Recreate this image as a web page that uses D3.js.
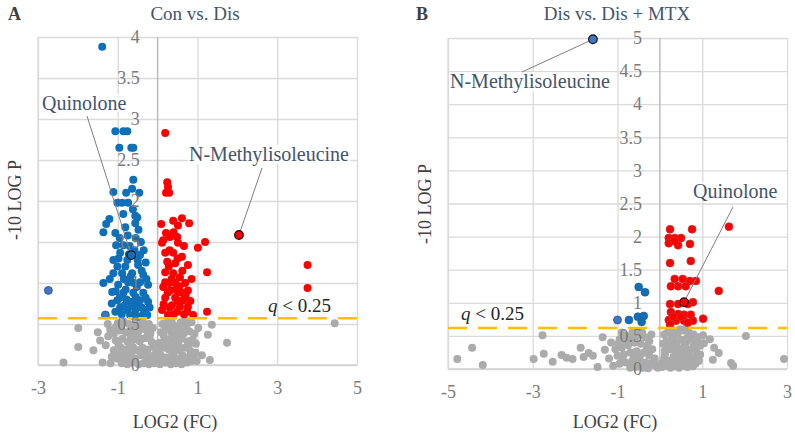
<!DOCTYPE html>
<html><head><meta charset="utf-8">
<script src="https://cdn.jsdelivr.net/npm/d3@7"></script>
<style>html,body{margin:0;padding:0;background:#fff;}svg{display:block;}</style>
</head><body>
<svg id="c" width="795" height="435"></svg>
<script>
// ---------- DATA ----------
const panelTitles = ["Con vs. Dis", "Dis vs. Dis + MTX"];
const panelLetters = ["A", "B"];
const xTicksA = [-3, -1, 1, 3, 5];
const yTicksA = [0, 0.5, 1, 1.5, 2, 2.5, 3, 3.5, 4];
const xTicksB = [-5, -3, -1, 1, 3];
const yTicksB = [0, 0.5, 1, 1.5, 2, 2.5, 3, 3.5, 4, 4.5, 5];
const thresholdA = 0.57, thresholdB = 0.62;
const thresholdLabel = "< 0.25";

const blueA = [[-1.39,3.88],[-1.06,2.85],[-0.86,2.85],[-0.76,2.85],[-0.96,2.65],[-0.66,2.65],[-0.61,2.65],
[-0.61,2.26],[-1.11,2.11],[-0.79,2.10],[-0.64,2.15],[-0.46,2.10],[-1.01,1.98],[-0.89,1.98],[-0.74,1.98],
[-0.86,1.84],[-0.56,1.82],[-1.29,1.72],[-1.21,1.78],[-1.06,1.61],[-0.81,1.68],[-0.51,1.80],[-0.56,1.73],
[-1.36,1.62],[-1.04,1.46],[-0.86,1.46],[-0.44,1.34],[-0.94,1.37],[-1.11,1.28],[-0.76,1.28],[-0.49,1.22],
[-1.01,1.20],[-0.81,1.20],[-0.64,1.12],[-0.89,1.12],[-1.11,1.12],[-0.36,1.10],[-0.44,1.01],[-0.74,1.01],
[-1.36,1.00],[-0.99,0.98],[-0.24,0.98],[-1.14,0.89],[-0.86,0.88],[-0.61,0.88],[-0.36,0.88],[-1.01,0.79],
[-0.69,0.77],[-0.44,0.79],[-0.24,0.77],[-0.94,0.70],[-0.76,0.67],[-0.56,0.67],[-0.31,0.67],[-1.06,0.65],
[-0.49,0.59],[-0.69,0.61],[-0.26,0.61],[-0.55,1.55],[-0.70,1.45],[-0.42,1.50],[-0.95,1.55],[-0.30,1.25],
[-0.60,1.00],[-0.52,0.95],[-0.80,0.92],[-0.58,1.40],[-0.35,1.40],[-0.66,0.72],[-0.40,0.70],[-0.90,0.62],
[-0.98,1.30],[-0.72,1.35],[-0.50,1.28],[-0.85,1.05],[-0.68,1.08],[-0.40,1.15],[-0.28,1.05],[-0.95,0.82],
[-0.78,0.80],[-0.55,0.83],[-0.30,0.82],[-0.85,0.72],[-0.62,0.60],[-0.36,0.62],[-1.05,0.90],[-1.20,1.05],
[-0.48,1.65],[-0.75,1.58],[-0.62,1.90],[-1.15,0.75],[-0.20,0.70],[-0.52,0.75]];
const blueOutA = [[-2.74,0.91],[-1.31,0.61]];
const redA = [[0.19,2.83],[0.24,2.23],[0.26,2.17],[0.21,2.10],[0.29,2.10],[0.61,1.79],[0.39,1.76],[0.79,1.73],
[0.51,1.70],[0.09,1.72],[0.21,1.61],[0.31,1.56],[0.49,1.56],[0.14,1.52],[1.19,1.50],[1.01,1.43],[0.11,1.49],
[0.51,1.49],[0.19,1.37],[0.39,1.37],[0.61,1.32],[0.24,1.26],[0.44,1.24],[0.76,1.22],[1.24,1.13],[0.19,1.13],
[0.39,1.12],[0.56,1.07],[0.19,1.01],[0.44,1.01],[0.69,1.00],[0.31,0.91],[0.51,0.89],[0.76,0.91],[0.19,0.82],
[0.44,0.82],[0.64,0.79],[0.36,0.73],[0.56,0.71],[0.76,0.71],[0.49,0.65],[0.74,0.65],[0.89,0.61],[1.24,0.65],
[0.11,0.67],[0.26,0.61],[3.76,1.22],[3.76,0.94],[0.30,1.00],[0.60,0.88],[0.14,0.95],[0.66,0.62],[0.40,0.62],
[0.30,1.40],[0.50,1.30],[0.28,1.20],[0.62,1.15],[0.35,1.05],[0.55,0.96],[0.25,0.88],[0.45,0.92],[0.70,0.84],
[0.30,0.70],[0.50,0.78],[0.82,0.78],[0.15,0.74],[0.40,1.62],[0.66,1.45],[0.85,1.05]];
const grayA = [[-1.99,0.45],[-1.99,0.22],[-2.36,0.03],[-1.61,0.18],[-1.44,0.30],[-1.50,0.40],[-1.24,0.35],
[-1.19,0.43],[-1.00,0.51],[-1.30,0.24],[-1.38,0.03],[-1.18,0.02],[-1.02,0.08],[1.36,0.49],[1.26,0.37],
[1.31,0.06],[1.11,0.12],[1.74,0.27],[4.44,0.51],[0.96,0.26],[1.02,0.45],[0.85,0.52],[0.92,0.38],
[-0.85,0.53],[-0.72,0.50],[-0.55,0.52],[-0.38,0.54],[-0.22,0.50],[-0.12,0.45],[0.12,0.50],[0.25,0.53],
[0.42,0.48],[0.58,0.52],[0.72,0.47],[-0.95,0.42],[-0.80,0.40],[-0.65,0.43],[-0.48,0.41],[-0.33,0.44],
[-0.18,0.38],[0.08,0.40],[0.20,0.43],[0.35,0.39],[0.50,0.42],[0.65,0.38],[0.80,0.41],[-1.05,0.30],
[-0.88,0.32],[-0.75,0.28],[-0.60,0.31],[-0.45,0.29],[-0.30,0.33],[-0.15,0.28],[-0.05,0.26],[0.05,0.27],
[0.18,0.29],[0.30,0.31],[0.45,0.28],[0.60,0.32],[0.75,0.29],[0.88,0.31],[-1.10,0.18],[-0.92,0.21],
[-0.78,0.19],[-0.62,0.22],[-0.50,0.18],[-0.38,0.21],[-0.25,0.19],[-0.10,0.22],[0.02,0.18],[0.15,0.21],
[0.28,0.19],[0.40,0.22],[0.55,0.18],[0.68,0.21],[0.82,0.17],[0.95,0.15],[-1.15,0.10],[-0.98,0.12],
[-0.85,0.09],[-0.70,0.11],[-0.56,0.08],[-0.42,0.12],[-0.30,0.09],[-0.18,0.11],[-0.05,0.08],[0.08,0.12],
[0.22,0.09],[0.35,0.11],[0.48,0.08],[0.62,0.12],[0.76,0.09],[0.90,0.10],[-0.90,0.02],[-0.76,0.01],
[-0.62,0.03],[-0.48,0.01],[-0.35,0.02],[-0.22,0.01],[-0.08,0.02],[0.06,0.01],[0.20,0.03],[0.33,0.01],
[0.46,0.02],[0.60,0.01],[0.74,0.03],[-0.68,0.36],[-0.52,0.35],[-0.40,0.48],[0.30,0.46],[0.55,0.35],
[-0.85,0.15],[0.40,0.15],[-0.25,0.40],[0.70,0.55],
[-1.25,0.50],[-1.10,0.38],[-0.98,0.25],[-0.92,0.48],[-0.60,0.47],[-0.45,0.53],[-0.28,0.45],[-0.20,0.33],
[-0.35,0.15],[-0.15,0.05],[-0.65,0.16],[-0.75,0.05],[-0.05,0.14],[0.12,0.06],[0.15,0.36],[0.38,0.05],
[0.52,0.25],[0.65,0.06],[0.78,0.24],[0.85,0.05],[0.25,0.25],[0.45,0.35],[0.35,0.54],[-0.55,0.38],
[-0.90,0.14],[-1.05,0.46],[0.98,0.05],[-0.40,0.32],[0.60,0.46],[0.10,0.25]];
const blueB = [[-0.50,1.24],[-0.35,1.16],[-0.73,0.74],[-0.52,0.79],[-0.38,0.80],[-0.43,0.71]];
const blueOutB = [[-1.00,0.74]];
const redB = [[0.24,2.11],[0.76,2.11],[1.63,2.15],[0.21,1.98],[0.35,1.98],[0.50,1.98],[0.21,1.90],[0.43,1.87],
[0.71,1.89],[0.35,1.93],[0.24,1.60],[0.73,1.63],[0.35,1.36],[0.54,1.36],[0.71,1.33],[0.85,1.33],[0.26,1.25],
[0.43,1.25],[0.61,1.25],[1.39,1.18],[0.24,0.98],[0.43,0.98],[0.78,1.01],[0.66,0.98],[0.26,0.86],[0.43,0.83],
[0.57,0.82],[0.21,0.74],[0.38,0.73],[0.57,0.73],[0.78,0.73],[1.02,0.76],[0.31,0.79],[0.50,0.79],[0.73,0.82],
[0.66,0.70],[0.24,0.67]];
const grayB = [[-4.78,0.15],[-4.43,0.32],[-4.18,0.06],[-2.98,0.15],[-2.74,0.23],[-2.77,0.51],[-2.53,0.11],
[-2.32,0.21],[-2.06,0.15],[-1.87,0.32],[-1.80,0.18],[-1.68,0.24],[-1.47,0.03],[-1.35,0.48],[-1.30,0.29],
[-1.15,0.40],[-1.20,0.16],[2.03,0.50],[2.93,0.15],[1.68,0.09],[1.73,0.05],[1.39,0.24],[1.25,0.14],
[1.28,0.32],[1.04,0.39],[1.02,0.51],[1.18,0.45],[-1.58,0.20],[-2.20,0.17],
[-0.95,0.45],[-0.80,0.50],[-0.65,0.55],[-0.50,0.52],[-0.35,0.48],[-0.90,0.32],[-0.75,0.36],[-0.60,0.40],
[-0.45,0.38],[-0.30,0.35],[-0.18,0.30],[-1.00,0.20],[-0.85,0.22],[-0.70,0.25],[-0.55,0.27],[-0.40,0.24],
[-0.25,0.20],[-0.12,0.16],[-0.95,0.08],[-0.80,0.10],[-0.65,0.12],[-0.50,0.13],[-0.35,0.10],[-0.22,0.08],
[-0.10,0.05],[-0.70,0.02],[-0.55,0.03],[-0.40,0.02],[-0.28,0.01],[-0.05,0.02],[-1.05,0.30],
[0.05,0.03],[0.15,0.05],[0.25,0.02],[0.35,0.04],[0.45,0.02],[0.55,0.05],[0.65,0.03],[0.78,0.04],
[0.10,0.15],[0.20,0.12],[0.32,0.18],[0.44,0.14],[0.56,0.16],[0.68,0.13],[0.82,0.17],[0.92,0.12],
[0.12,0.28],[0.24,0.30],[0.36,0.26],[0.48,0.31],[0.60,0.27],[0.72,0.30],[0.85,0.28],[0.15,0.42],
[0.27,0.45],[0.39,0.40],[0.51,0.44],[0.63,0.41],[0.75,0.45],[0.88,0.40],[0.18,0.55],[0.30,0.58],
[0.42,0.54],[0.55,0.58],[0.68,0.55],[0.80,0.52],[0.95,0.35],[0.08,0.38],[0.10,0.52],[-0.62,0.18],
[-0.82,0.40],[0.40,0.08],[0.62,0.22],[0.28,0.36],[0.70,0.08],
[-0.90,0.55],[-0.72,0.45],[-0.58,0.48],[-0.42,0.55],[-0.25,0.42],[-0.15,0.10],[-0.48,0.18],[-0.32,0.28],
[-0.62,0.08],[-0.88,0.15],[-1.10,0.05],[0.02,0.08],[0.12,0.22],[0.22,0.38],[0.34,0.50],[0.46,0.22],
[0.58,0.36],[0.70,0.20],[0.84,0.08],[0.90,0.48],[0.22,0.60],[0.48,0.60],[0.62,0.62],[0.35,0.10],
[0.52,0.09],[0.80,0.35],[0.15,0.32],[0.40,0.30],[0.66,0.48],[0.95,0.22],[-0.98,0.38],[-0.20,0.52]];
// annotated points
const annotA = [{name:"Quinolone", p:[-0.66,1.34], kind:"blue"},{name:"N-Methylisoleucine", p:[2.04,1.585], kind:"red"}];
const annotB = [{name:"N-Methylisoleucine", p:[-1.58,4.98], kind:"blueOut"},{name:"Quinolone", p:[0.57,1.01], kind:"red"}];

// ---------- DRAW ----------
const svg = d3.select("#c");
const FONT = "'Liberation Serif', 'Times New Roman', serif";
const COL = {blue:"#0f6fb8", blueOut:"#4472c4", red:"#ff0000", gray:"#ababab"};

function panel(cfg){
  const {x, y, xTicks, yTicks, thr, grays, blues, blueOuts, reds, annots, ptStroke, labelPos, thrText} = cfg;
  const g = svg.append("g");
  const [x0,x1] = x.range(), [y0,y1] = y.range();
  g.append("g").attr("transform",`translate(0,${y0})`)
    .call(d3.axisBottom(x).tickValues(xTicks).tickSize(-(y0-y1)).tickFormat(""))
    .call(s=>{s.select(".domain").remove(); s.selectAll("line").attr("stroke","#dadada").attr("stroke-width",1.3);});
  g.append("g").attr("transform",`translate(${x0},0)`)
    .call(d3.axisLeft(y).tickValues(yTicks).tickSize(-(x1-x0)).tickFormat(""))
    .call(s=>{s.select(".domain").remove(); s.selectAll("line").attr("stroke","#dadada").attr("stroke-width",1.3);});
  g.append("line").attr("x1",x0).attr("x2",x0).attr("y1",y1).attr("y2",y0).attr("stroke","#dadada").attr("stroke-width",1.3);
  g.append("line").attr("x1",x(0)).attr("x2",x(0)).attr("y1",y1).attr("y2",y0).attr("stroke","#bdbdbd").attr("stroke-width",1.5);
  g.append("line").attr("x1",x0).attr("x2",x1).attr("y1",y(0)).attr("y2",y(0)).attr("stroke","#d0d0d0").attr("stroke-width",1.5);

  const dots = (data, fill, stroke, sw) => g.append("g").selectAll("circle").data(data).join("circle")
    .attr("cx",d=>x(d[0])).attr("cy",d=>y(d[1])).attr("r",4)
    .attr("fill",fill).attr("stroke",stroke).attr("stroke-width",sw);
  dots(grays, COL.gray, "none", 0);
  dots(blues, COL.blue, ptStroke ? "#2a5a85" : "none", ptStroke?0.6:0);
  dots(reds, COL.red, ptStroke ? "#b04040" : "none", ptStroke?0.6:0);
  dots(blueOuts, COL.blueOut, "#2f528f", 0.8);

  g.append("line").attr("x1",x0).attr("x2",x1).attr("y1",y(thr)).attr("y2",y(thr))
    .attr("stroke","#ffc000").attr("stroke-width",2.6).attr("stroke-dasharray","19,11");
  const tt = g.append("text").attr("x",thrText[0]).attr("y",thrText[1]).attr("font-family",FONT).attr("font-size",19).attr("fill","#262626");
  tt.append("tspan").attr("font-style","italic").text("q");
  tt.append("tspan").text(" " + thresholdLabel);

  g.append("g").attr("transform",`translate(${x(0)},0)`)
    .call(d3.axisLeft(y).tickValues(yTicks).tickSize(0).tickPadding(18).tickFormat(d=>String(d)))
    .call(s=>{s.select(".domain").remove(); s.attr("font-family",FONT); s.selectAll("text").attr("font-family",FONT).attr("font-size",18).attr("fill","#7a7a7a");});
  g.append("g").attr("transform",`translate(0,${y0})`)
    .call(d3.axisBottom(x).tickValues(xTicks).tickSize(0).tickPadding(16).tickFormat(d=>String(d)))
    .call(s=>{s.select(".domain").remove(); s.attr("font-family",FONT); s.selectAll("text").attr("font-family",FONT).attr("font-size",18).attr("fill","#7a7a7a");});

  annots.forEach((a,i)=>{
    const lp = labelPos[i];
    const px = x(a.p[0]), py = y(a.p[1]);
    const t = g.append("text").attr("x",lp.tx).attr("y",lp.ty).attr("font-family",FONT).attr("font-size",20)
      .attr("fill","#44546a").text(a.name);
    const bb = t.node().getBBox();
    g.insert("rect", () => t.node()).attr("x",bb.x-1).attr("y",bb.y+2).attr("width",bb.width+2).attr("height",bb.height-4).attr("fill","#fff");
    g.append("line").attr("x1",lp.lx).attr("y1",lp.ly).attr("x2",px).attr("y2",py).attr("stroke","#7f7f7f").attr("stroke-width",1);
    g.append("circle").attr("cx",px).attr("cy",py).attr("r",4.3).attr("fill",COL[a.kind]).attr("stroke","#1a1a1a").attr("stroke-width",1.3);
  });
  return g;
}

const xA = d3.scaleLinear().domain([-3,5]).range([38,357]);
const yA = d3.scaleLinear().domain([0,4]).range([365,37]);
const xB = d3.scaleLinear().domain([-5,3]).range([448,787]);
const yB = d3.scaleLinear().domain([0,5]).range([369,38]);

panel({x:xA,y:yA,xTicks:xTicksA,yTicks:yTicksA,thr:thresholdA,grays:grayA,blues:blueA,blueOuts:blueOutA,reds:redA,
  annots:annotA, ptStroke:false, thrText:[268,312],
  labelPos:[{tx:42,ty:110,lx:87,ly:116},{tx:189,ty:161,lx:262,ly:168}]});
panel({x:xB,y:yB,xTicks:xTicksB,yTicks:yTicksB,thr:thresholdB,grays:grayB,blues:blueB,blueOuts:blueOutB,reds:redB,
  annots:annotB, ptStroke:true, thrText:[461,320],
  labelPos:[{tx:450,ty:88,lx:522,ly:72},{tx:693,ty:198,lx:733,ly:207}]});

const titles = [{t:panelTitles[0],x:195},{t:panelTitles[1],x:617}];
titles.forEach(d=>svg.append("text").attr("x",d.x).attr("y",20).attr("text-anchor","middle").attr("font-family",FONT)
  .attr("font-size",19).attr("fill","#44546a").text(d.t));
[[8,panelLetters[0]],[416,panelLetters[1]]].forEach(d=>svg.append("text").attr("x",d[0]).attr("y",20).attr("font-family",FONT)
  .attr("font-size",18).attr("font-weight","bold").attr("fill","#404040").text(d[1]));
[[175,"LOG2 (FC)"],[615,"LOG2 (FC)"]].forEach(d=>svg.append("text").attr("x",d[0]).attr("y",428).attr("text-anchor","middle")
  .attr("font-family",FONT).attr("font-size",18).attr("fill","#404040").text(d[1]));
[[15,200],[425,204]].forEach(d=>svg.append("text").attr("transform",`translate(${d[0]},${d[1]}) rotate(-90)`)
  .attr("text-anchor","middle").attr("dy","0.35em").attr("font-family",FONT).attr("font-size",18).attr("fill","#404040").text("-10 LOG P"));
</script>
</body></html>
